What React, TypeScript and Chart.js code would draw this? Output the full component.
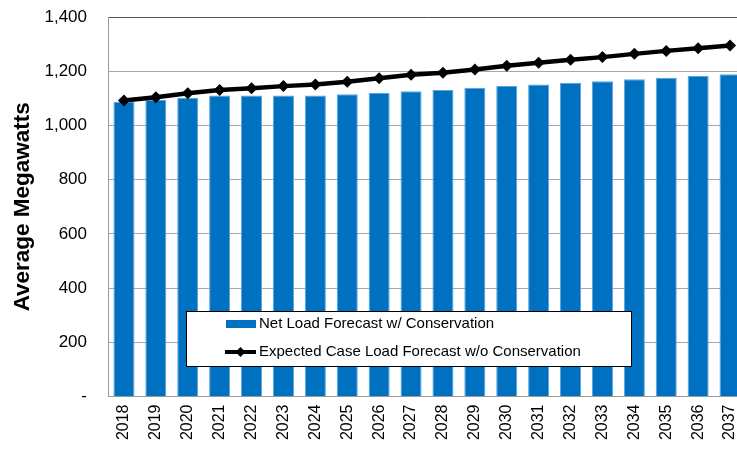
import React, { useEffect, useRef } from "react";
import { Chart, registerables } from "chart.js";

Chart.register(...registerables);

const years = ["2018","2019","2020","2021","2022","2023","2024","2025","2026","2027","2028","2029","2030","2031","2032","2033","2034","2035","2036","2037"];
const netLoad = [1086,1095,1102,1110,1110,1110,1110,1115,1120,1126,1131,1139,1145,1151,1157,1163,1170,1176,1182,1189];
const expectedLoad = [1092,1104,1119,1131,1137,1145,1151,1161,1174,1187,1194,1206,1220,1231,1242,1252,1264,1275,1285,1295];
const barLabel = "Net Load Forecast w/ Conservation";
const lineLabel = "Expected Case Load Forecast w/o Conservation";
const yTitle = "Average Megawatts";

const FONT = "'Liberation Sans', Arial, sans-serif";

const legendPlugin = {
  id: "boxLegend",
  afterDraw(chart: any) {
    const ctx = chart.ctx;
    const ds = chart.data.datasets;
    const bx = 186.5, by = 311.5, bw = 445, bh = 55;
    ctx.save();
    ctx.fillStyle = "#ffffff";
    ctx.fillRect(bx, by, bw, bh);
    ctx.strokeStyle = "#000000";
    ctx.lineWidth = 1;
    ctx.strokeRect(bx, by, bw, bh);
    ctx.font = `15px ${FONT}`;
    ctx.textBaseline = "middle";
    ctx.textAlign = "left";
    const r1 = 324, r2 = 352;
    ctx.fillStyle = ds[0].backgroundColor;
    ctx.fillRect(226, r1 - 4, 30, 8);
    ctx.fillStyle = "#000";
    ctx.fillText(ds[0].label, 259, r1);
    ctx.strokeStyle = "#000";
    ctx.lineWidth = 4;
    ctx.beginPath();
    ctx.moveTo(225, r2);
    ctx.lineTo(256, r2);
    ctx.stroke();
    ctx.beginPath();
    ctx.moveTo(240.5, r2 - 5);
    ctx.lineTo(245.5, r2);
    ctx.lineTo(240.5, r2 + 5);
    ctx.lineTo(235.5, r2);
    ctx.closePath();
    ctx.fillStyle = "#000";
    ctx.fill();
    ctx.fillText(ds[1].label, 259, r2);
    ctx.restore();
  },
};

export default function App() {
  const ref = useRef<HTMLCanvasElement>(null);
  useEffect(() => {
    if (!ref.current) return;
    const chart = new Chart(ref.current, {
      type: "bar",
      data: {
        labels: years,
        datasets: [
          {
            type: "bar",
            label: barLabel,
            data: netLoad,
            backgroundColor: "#0070C0",
            borderColor: "#5AA5DA",
            borderWidth: 1,
            categoryPercentage: 1,
            barPercentage: 0.66,
            order: 2,
          } as any,
          {
            type: "line",
            label: lineLabel,
            data: expectedLoad,
            borderColor: "#000000",
            backgroundColor: "#000000",
            borderWidth: 4.5,
            pointStyle: "rectRot",
            pointRadius: 6,
            pointBackgroundColor: "#000000",
            pointBorderColor: "#000000",
            pointBorderWidth: 0,
            tension: 0,
            order: 1,
          } as any,
        ],
      },
      options: {
        responsive: false,
        animation: false,
        layout: { padding: { top: 17, left: 0, right: 0, bottom: 0 } },
        plugins: {
          legend: { display: false },
          tooltip: { enabled: false },
        },
        scales: {
          x: {
            grid: { display: false, drawTicks: false },
            border: { color: "#9a9a9a", width: 1 },
            ticks: {
              minRotation: 90,
              maxRotation: 90,
              color: "#000",
              padding: 8,
              font: { family: FONT, size: 16 },
            },
            afterFit(scale: any) {
              scale.height = 52.5;
              scale.paddingLeft = 0;
              scale.paddingRight = 0;
            },
          },
          y: {
            min: 0,
            max: 1400,
            ticks: {
              stepSize: 200,
              color: "#000",
              padding: 21,
              font: { family: FONT, size: 17 },
              callback: (v: any) => (Number(v) === 0 ? "-" : Number(v).toLocaleString("en-US")),
            },
            grid: {
              drawTicks: false,
              color: (c: any) => (c.tick && c.tick.value === 1400 ? "#555555" : "#a6a6a6"),
              lineWidth: 1,
            },
            border: { color: "#9a9a9a", width: 1 },
            title: {
              display: true,
              text: yTitle,
              color: "#000",
              font: { family: FONT, size: 22.5, weight: "bold" },
              padding: { top: 9, bottom: 0 },
            },
            afterFit(scale: any) {
              scale.width = 108;
              scale.paddingTop = 0;
              scale.paddingBottom = 0;
            },
          },
        },
      },
      plugins: [legendPlugin],
    } as any);
    return () => chart.destroy();
  }, []);
  return (
    <div style={{ position: "fixed", left: 0, top: 0, width: 737, height: 449, overflow: "hidden", background: "#fff" }}>
      <canvas ref={ref} width={752} height={449} style={{ display: "block", width: 752, height: 449 }} />
    </div>
  );
}
